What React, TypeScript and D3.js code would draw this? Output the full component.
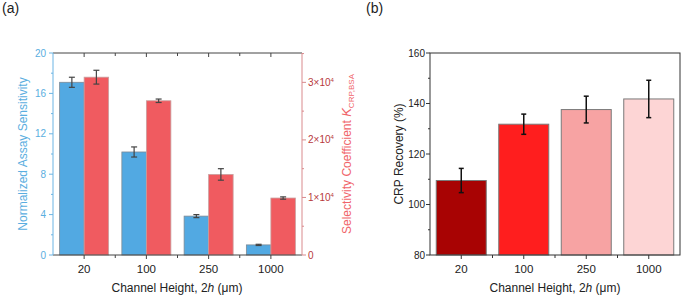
import * as d3 from "d3";

const heights = ["20", "100", "250", "1000"];
const sensitivity = [17.1, 10.2, 3.85, 1.0];
const sensitivityErr = [0.5, 0.5, 0.15, 0.06];
const selectivity = [30900, 26800, 14000, 9900];
const selectivityErr = [1200, 300, 1000, 200];
const recovery = [109.5, 131.8, 137.6, 141.8];
const recoveryErr = [4.8, 4.0, 5.3, 7.4];
const recoveryColors = ["#a80303", "#ff1e1e", "#f7a3a3", "#fdd5d5"];

const leftTicks = [0, 4, 8, 12, 16, 20];
const rightTicks = [0, 1, 2, 3];
const recoveryTicks = [80, 100, 120, 140, 160];

const FONT = "'Liberation Sans', Arial, sans-serif";
const BLUE = "#52a9e2";
const RED = "#f05b60";
const TOP = 53;
const BOTTOM = 255;

const ErrorBar = ({ x, y0, y1, cap, color, w }) => (
  <g stroke={color} strokeWidth={w}>
    <line x1={x} x2={x} y1={y0} y2={y1} />
    <line x1={x - cap} x2={x + cap} y1={y0} y2={y0} />
    <line x1={x - cap} x2={x + cap} y1={y1} y2={y1} />
  </g>
);

const PanelA = () => {
  const x = d3.scaleBand().domain(heights).range([53, 302]);
  const sub = d3.scaleBand().domain(["sens", "sel"]).range([0, x.bandwidth()]).paddingOuter(0.27);
  const yL = d3.scaleLinear().domain([0, 20]).range([BOTTOM, TOP]);
  const yR = d3.scaleLinear().domain([0, 3.51]).range([BOTTOM, TOP]);
  const bounds = heights.map((h) => x(h)).concat([x.range()[1]]);
  const bw = sub.bandwidth();

  return (
    <g fontFamily={FONT}>
      <text x={2} y={13} fontSize={14} fill="#222">(a)</text>
      {heights.map((h, i) => (
        <g key={h}>
          <rect x={x(h) + sub("sens")} y={yL(sensitivity[i])} width={bw} height={BOTTOM - yL(sensitivity[i])}
            fill={BLUE} stroke="#7d8a95" strokeWidth={0.8} />
          <rect x={x(h) + sub("sel")} y={yR(selectivity[i] / 1e4)} width={bw} height={BOTTOM - yR(selectivity[i] / 1e4)}
            fill={RED} stroke="#c9a0a0" strokeWidth={0.8} />
          <ErrorBar x={x(h) + sub("sens") + bw / 2} y0={yL(sensitivity[i] + sensitivityErr[i])}
            y1={yL(sensitivity[i] - sensitivityErr[i])} cap={3} color="#444" w={1.2} />
          <ErrorBar x={x(h) + sub("sel") + bw / 2} y0={yR((selectivity[i] + selectivityErr[i]) / 1e4)}
            y1={yR((selectivity[i] - selectivityErr[i]) / 1e4)} cap={3} color="#444" w={1.2} />
        </g>
      ))}
      {/* frame */}
      <line x1={53} x2={302} y1={TOP} y2={TOP} stroke="#444" />
      <line x1={53} x2={302} y1={BOTTOM} y2={BOTTOM} stroke="#444" />
      <line x1={53} x2={53} y1={TOP} y2={BOTTOM} stroke="#6bb4e4" />
      <line x1={302} x2={302} y1={TOP} y2={BOTTOM} stroke="#d98a8d" />
      {heights.map((h) => (
        <g key={h}>
          <line x1={x(h) + x.bandwidth() / 2} x2={x(h) + x.bandwidth() / 2} y1={TOP} y2={TOP + 4} stroke="#444" />
          <line x1={x(h) + x.bandwidth() / 2} x2={x(h) + x.bandwidth() / 2} y1={BOTTOM} y2={BOTTOM + 4} stroke="#444" />
          <text x={x(h) + x.bandwidth() / 2} y={273} fontSize={11.5} textAnchor="middle" fill="#222">{h}</text>
        </g>
      ))}
      {bounds.slice(1, -1).map((b, i) => (
        <g key={i}>
          <line x1={b} x2={b} y1={TOP} y2={TOP + 3} stroke="#444" />
          <line x1={b} x2={b} y1={BOTTOM} y2={BOTTOM + 3} stroke="#444" />
        </g>
      ))}
      {d3.range(0, 21, 2).map((t) => (
        <line key={t} x1={53} x2={leftTicks.includes(t) ? 49 : 51} y1={yL(t)} y2={yL(t)} stroke="#6bb4e4" />
      ))}
      {leftTicks.map((t) => (
        <text key={t} x={46} y={yL(t)} dy="0.35em" fontSize={10} textAnchor="end" fill="#5aaee0">{t}</text>
      ))}
      {d3.range(0, 3.6, 0.5).map((t) => (
        <line key={t} x1={302} x2={Number.isInteger(t) ? 306 : 304} y1={yR(t)} y2={yR(t)} stroke="#d98a8d" />
      ))}
      {rightTicks.map((t) => (
        <text key={t} x={308} y={yR(t)} dy="0.35em" fontSize={10} fill="#b7393c">
          {t === 0 ? "0" : (
            <>
              {t}×10<tspan dy="-4" fontSize={6}>4</tspan>
            </>
          )}
        </text>
      ))}
      <text transform="translate(27,154) rotate(-90)" fontSize={12} textAnchor="middle" fill="#5aaee0">
        Normalized Assay Sensitivity
      </text>
      <text transform="translate(351,154) rotate(-90)" fontSize={12} textAnchor="middle" fill="#f0656a">
        Selectivity Coefficient <tspan fontStyle="italic" fontSize={13}>K</tspan>
        <tspan dy="3" fontSize={8}>CRP,BSA</tspan>
      </text>
      <text x={177} y={292} fontSize={12} textAnchor="middle" fill="#222">
        Channel Height, 2<tspan fontStyle="italic">h</tspan> (μm)
      </text>
    </g>
  );
};

const PanelB = () => {
  const x = d3.scaleBand().domain(heights).range([430, 680]).paddingInner(0.2).paddingOuter(0.1);
  const y = d3.scaleLinear().domain([80, 160]).range([BOTTOM, TOP]);
  const step = x.step();
  const bounds = heights.slice(1).map((h) => x(h) - step * 0.1);

  return (
    <g fontFamily={FONT}>
      <text x={366} y={13} fontSize={14} fill="#222">(b)</text>
      {heights.map((h, i) => (
        <g key={h}>
          <rect x={x(h)} y={y(recovery[i])} width={x.bandwidth()} height={BOTTOM - y(recovery[i])}
            fill={recoveryColors[i]} stroke="#7a7a7a" strokeWidth={1} />
          <ErrorBar x={x(h) + x.bandwidth() / 2} y0={y(recovery[i] + recoveryErr[i])}
            y1={y(recovery[i] - recoveryErr[i])} cap={2.5} color="#111" w={1.5} />
        </g>
      ))}
      <rect x={430} y={TOP} width={250} height={BOTTOM - TOP} fill="none" stroke="#333" />
      {d3.range(80, 161, 10).map((t) => (
        <line key={t} x1={430} x2={t % 20 === 0 ? 426 : 428} y1={y(t)} y2={y(t)} stroke="#333" />
      ))}
      {recoveryTicks.map((t) => (
        <text key={t} x={425} y={y(t)} dy="0.35em" fontSize={10} textAnchor="end" fill="#222">{t}</text>
      ))}
      {heights.map((h) => (
        <g key={h}>
          <line x1={x(h) + x.bandwidth() / 2} x2={x(h) + x.bandwidth() / 2} y1={BOTTOM} y2={BOTTOM + 4} stroke="#333" />
          <text x={x(h) + x.bandwidth() / 2} y={273} fontSize={11.5} textAnchor="middle" fill="#222">{h}</text>
        </g>
      ))}
      {bounds.map((b, i) => (
        <line key={i} x1={b} x2={b} y1={BOTTOM} y2={BOTTOM + 3} stroke="#333" />
      ))}
      <text transform="translate(403,154) rotate(-90)" fontSize={12} textAnchor="middle" fill="#222">
        CRP Recovery (%)
      </text>
      <text x={555} y={292} fontSize={12} textAnchor="middle" fill="#222">
        Channel Height, 2<tspan fontStyle="italic">h</tspan> (μm)
      </text>
    </g>
  );
};

export default function App() {
  return (
    <svg width={682} height={296} style={{ position: "absolute", left: 0, top: 0, background: "#fff" }}>
      <PanelA />
      <PanelB />
    </svg>
  );
}
